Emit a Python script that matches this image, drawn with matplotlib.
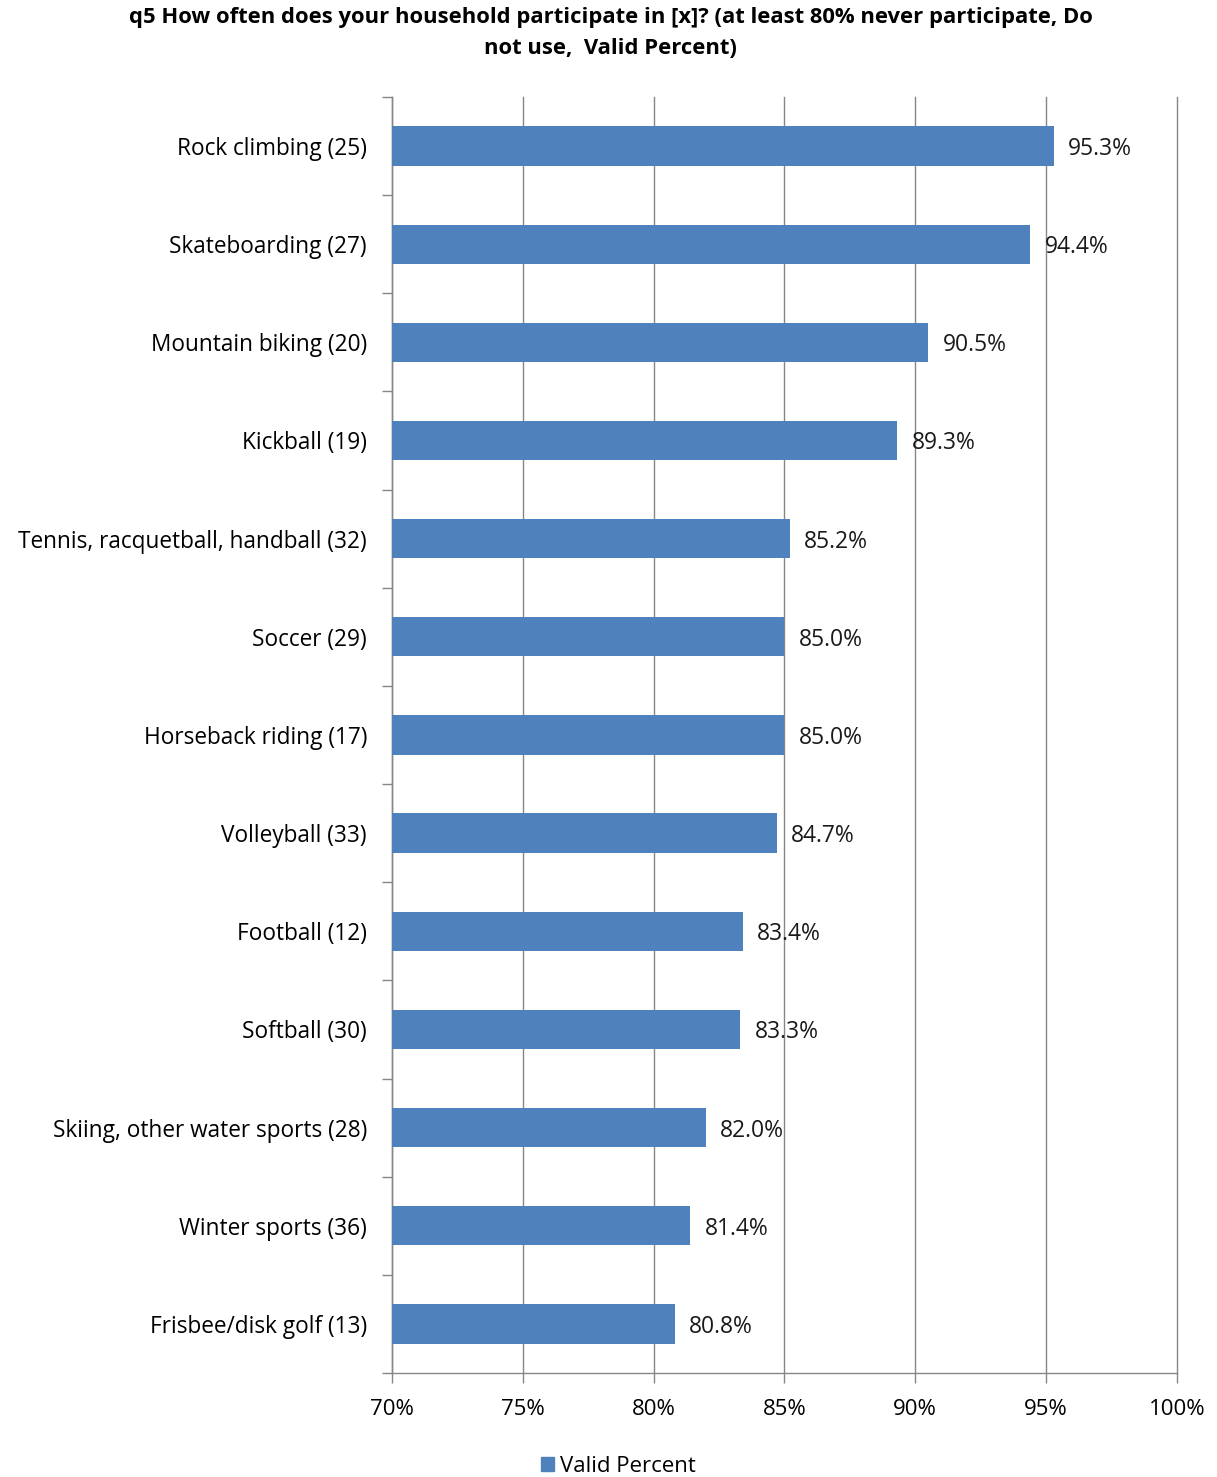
import matplotlib
matplotlib.use('Agg')
import matplotlib.pyplot as plt
from matplotlib.patches import Patch

plt.rcParams['font.family'] = ['Open Sans', 'DejaVu Sans']

# Data (top to bottom as in the chart)
activities = ['Rock climbing (25)', 'Skateboarding (27)', 'Mountain biking (20)',
              'Kickball (19)', 'Tennis, racquetball, handball (32)', 'Soccer (29)',
              'Horseback riding (17)', 'Volleyball (33)', 'Football (12)',
              'Softball (30)', 'Skiing, other water sports (28)', 'Winter sports (36)',
              'Frisbee/disk golf (13)']
valid_percent = [95.3, 94.4, 90.5, 89.3, 85.2, 85.0, 85.0, 84.7, 83.4, 83.3, 82.0, 81.4, 80.8]
xticks = [70, 75, 80, 85, 90, 95, 100]

bar_color = '#4F81BD'
grid_color = '#868686'

fig = plt.figure(figsize=(12.17, 14.77), dpi=100)
ax = fig.add_axes([0.3221, 0.0704, 0.645, 0.864])

n = len(activities)
ypos = list(range(n))
ax.barh(ypos, valid_percent, height=0.4, color=bar_color, left=0, zorder=3)
ax.set_xlim(70, 100)
ax.set_ylim(n - 0.5, -0.5)

# value labels
for y, v in zip(ypos, valid_percent):
    ax.text(v + 0.55, y, '%.1f%%' % v, va='center_baseline', ha='left', fontsize=16.5,
            color='#1a1a1a', zorder=4)

ax.set_xticks(xticks)
ax.set_xticklabels(['%d%%' % t for t in xticks], fontsize=16)
ax.xaxis.grid(True, color=grid_color, linewidth=1.0, zorder=0)
for gl in ax.get_xgridlines():
    gl.set_clip_on(False)

# category boundaries get the tick marks, names sit in between
ax.set_yticks([i - 0.5 for i in range(n + 1)], minor=False)
ax.set_yticklabels([])
ax.set_yticks(ypos, minor=True)
ax.set_yticklabels(activities, minor=True, fontsize=16.3)
ax.tick_params(axis='y', which='minor', length=0, pad=18)
ax.tick_params(axis='y', which='major', length=7, color=grid_color, width=1)
ax.tick_params(axis='x', length=7, color=grid_color, width=1, pad=12)

for s in ['top', 'right']:
    ax.spines[s].set_visible(False)
for s in ['left', 'bottom']:
    ax.spines[s].set_color(grid_color)
    ax.spines[s].set_linewidth(1.0)

fig.text(0.502, 0.995, 'q5 How often does your household participate in [x]? (at least 80% never participate, Do\nnot use,  Valid Percent)',
         ha='center', va='top', fontsize=15.8, fontweight='bold', linespacing=1.6)

fig.legend(handles=[Patch(color=bar_color, label='Valid Percent')], loc='center',
           bbox_to_anchor=(0.508, 0.007), frameon=False, fontsize=16,
           handlelength=0.6, handleheight=0.6, handletextpad=0.25)

fig.savefig('out.png', dpi=100)
